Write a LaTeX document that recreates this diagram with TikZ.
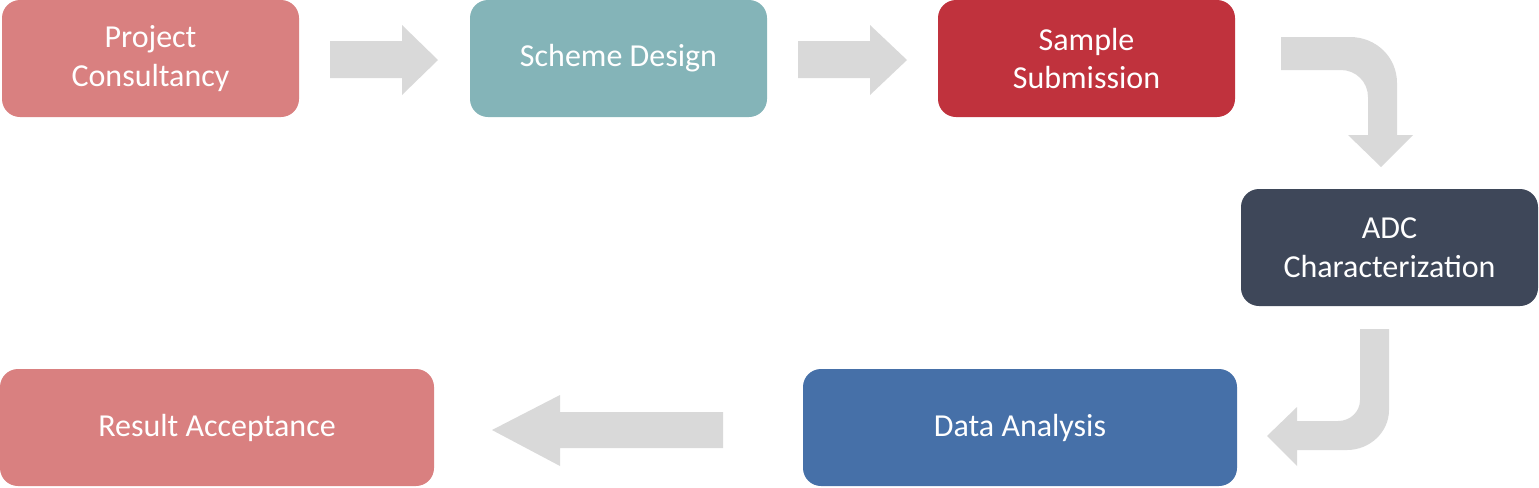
\documentclass[tikz,border=0pt]{standalone}
\usepackage{fontspec}
\setmainfont{Carlito}
\definecolor{cA}{HTML}{D98080}
\definecolor{cB}{HTML}{84B4B8}
\definecolor{cC}{HTML}{C0323D}
\definecolor{cD}{HTML}{3E4759}
\definecolor{cE}{HTML}{4670A8}
\definecolor{ar}{HTML}{D9D9D9}
\begin{document}
\begin{tikzpicture}[x=0.75pt,y=-0.75pt,
  box/.style={rounded corners=13.5pt,text=white,align=center,font=\fontsize{24}{29}\selectfont,inner sep=0pt,minimum height=87.75pt},
  arr/.style={fill=ar,draw=none}]
\useasboundingbox (0,0) rectangle (1539,487);
\node[box,fill=cA,minimum width=222.75pt] (n1) at (150.5,58.5) {Project\\Consultancy};
\node[box,fill=cB,minimum width=222.75pt] (n2) at (618.5,58.5) {Scheme Design};
\node[box,fill=cC,minimum width=222.75pt] (n3) at (1086.5,58.5) {Sample\\Submission};
\node[box,fill=cD,minimum width=222.75pt] (n4) at (1389.5,247.5) {ADC\\Characterization};
\node[box,fill=cE,minimum width=325.5pt] (n5) at (1020,427.5) {Data Analysis};
\node[box,fill=cA,minimum width=325.5pt] (n6) at (217,427.5) {Result Acceptance};
\fill[arr] (330,41)--(402,41)--(402,25)--(438,60)--(402,95)--(402,78)--(330,78)--cycle;
\fill[arr] (798,41)--(870,41)--(870,25)--(907,60)--(870,95)--(870,78)--(798,78)--cycle;
\fill[arr] (723,412)--(560,412)--(560,395)--(492,430)--(560,466)--(560,448)--(723,448)--cycle;
\fill[arr] (1281,37)--(1350,37) .. controls (1376,37) and (1397,57) .. (1397,83)
  --(1397,135)--(1413,135)--(1381,167)--(1348,135)--(1368,135)--(1368,97)
  .. controls (1368,82) and (1356,70) .. (1341,70)--(1281,70)--cycle;
\fill[arr] (1360,329)--(1389,329)--(1389,410) .. controls (1389,432) and (1370,450) .. (1347,450)
  --(1297,450)--(1297,466)--(1267,436)--(1297,407)--(1297,421)--(1338,421)
  .. controls (1350,421) and (1360,412) .. (1360,400)--cycle;
\end{tikzpicture}
\end{document}
